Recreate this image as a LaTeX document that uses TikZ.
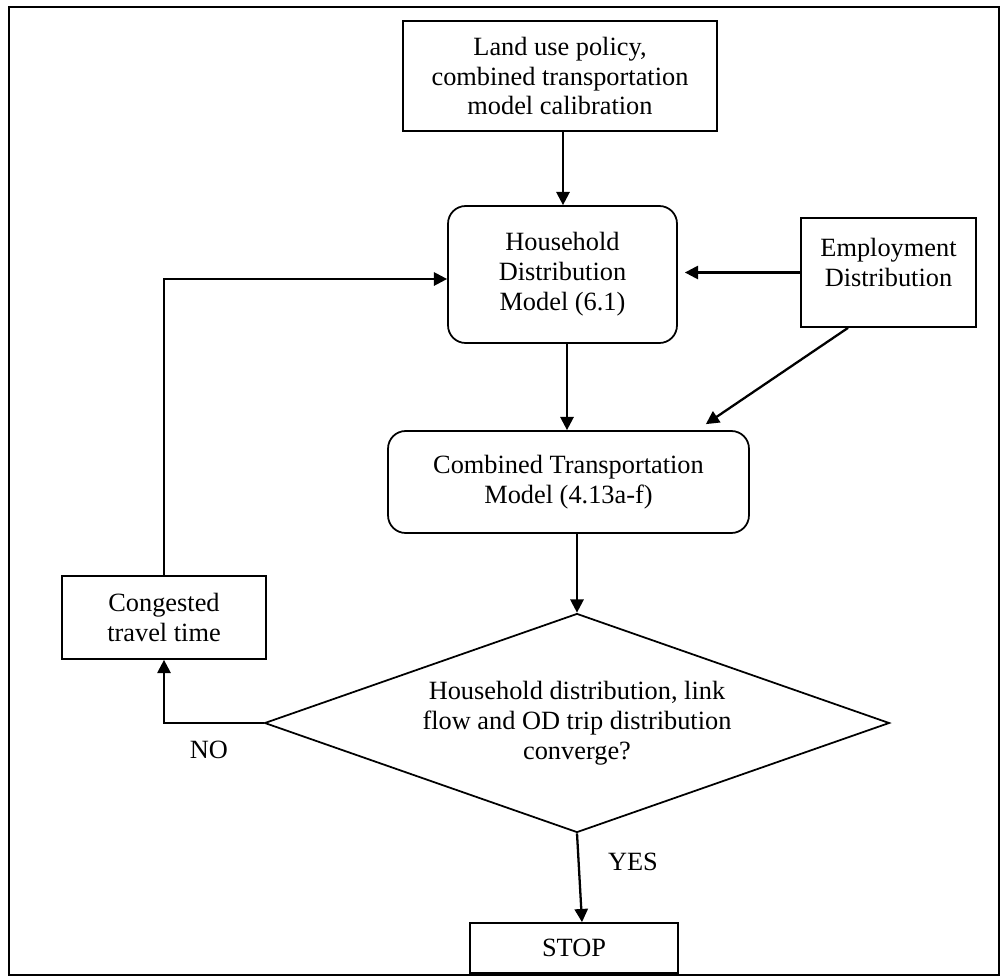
\documentclass[tikz,border=0pt]{standalone}
\usepackage{fontspec}
\setmainfont{Liberation Serif}
\usetikzlibrary{shapes.geometric,arrows.meta}

\tikzset{
	box/.style={draw, line width=1pt, align=center, inner sep=0pt, font=\fontsize{15}{17}\selectfont},
	roundbox/.style={box, rounded corners=10pt},
	decision/.style={diamond, draw, line width=1pt, align=center, inner sep=0pt, aspect=2.85, font=\fontsize{15}{17}\selectfont},
	flowarrow/.style={line width=1.3pt, -{Triangle[length=7.5pt,width=7.5pt]}},
	tag/.style={font=\fontsize{15}{17}\selectfont}
}

\begin{document}
\begin{tikzpicture}[x=0.02cm, y=-0.02cm]
			\useasboundingbox (0,0) rectangle (1005,978);
			\draw[line width=0.8pt] (9,7) rectangle (999,975);
			
			\node[box, minimum width=6.28cm, minimum height=2.2cm] (policy) at (560,76) {Land use policy,\\combined transportation\\model calibration};
			\node[roundbox, minimum width=4.58cm, minimum height=2.74cm] (household) at (562.5,274.5) {Household\\Distribution\\Model (6.1)};
			\node[box, minimum width=3.5cm, minimum height=2.18cm] (employment) at (888.5,272.5) {Employment\\Distribution\\[-5.6pt]\mbox{}};
			\node[roundbox, minimum width=7.22cm, minimum height=2.04cm] (combined) at (568.5,482) {Combined Transportation\\Model (4.13a-f)};
			\node[decision, minimum width=12.5cm, minimum height=4.38cm] (converge) at (577,723) {Household distribution, link\\flow and OD trip distribution\\converge?};
			\node[box, minimum width=4.08cm, minimum height=1.66cm] (congested) at (164,617.5) {Congested\\travel time};
			\node[box, minimum width=4.16cm, minimum height=1cm] (stop) at (574,948) {STOP};
			
			\node[tag] (no) at (209,750) {NO};
			\node[tag] (yes) at (633,862) {YES};
			
			\draw[flowarrow] (policy.south -| 563,0) -- (household.north -| 563,0);
			\draw[flowarrow, shorten >=4pt] (employment.west) -- (employment.west -| household.east);
			\draw[flowarrow] (household.south -| 567,0) -- (combined.north -| 567,0);
			\draw[flowarrow] ([xshift=-0.81cm]employment.south) -- ([xshift=-0.88cm, yshift=0.12cm]combined.north east);
			\draw[flowarrow] (converge.north |- combined.south) -- (converge.north);
			\draw[flowarrow] (converge.west) -| (congested.south);
			\draw[flowarrow] (congested.north) |- ([yshift=-0.09cm]household.west);
			\draw[flowarrow] (converge.south) -- ([xshift=0.16cm]stop.north);
			
		\end{tikzpicture}
\end{document}
